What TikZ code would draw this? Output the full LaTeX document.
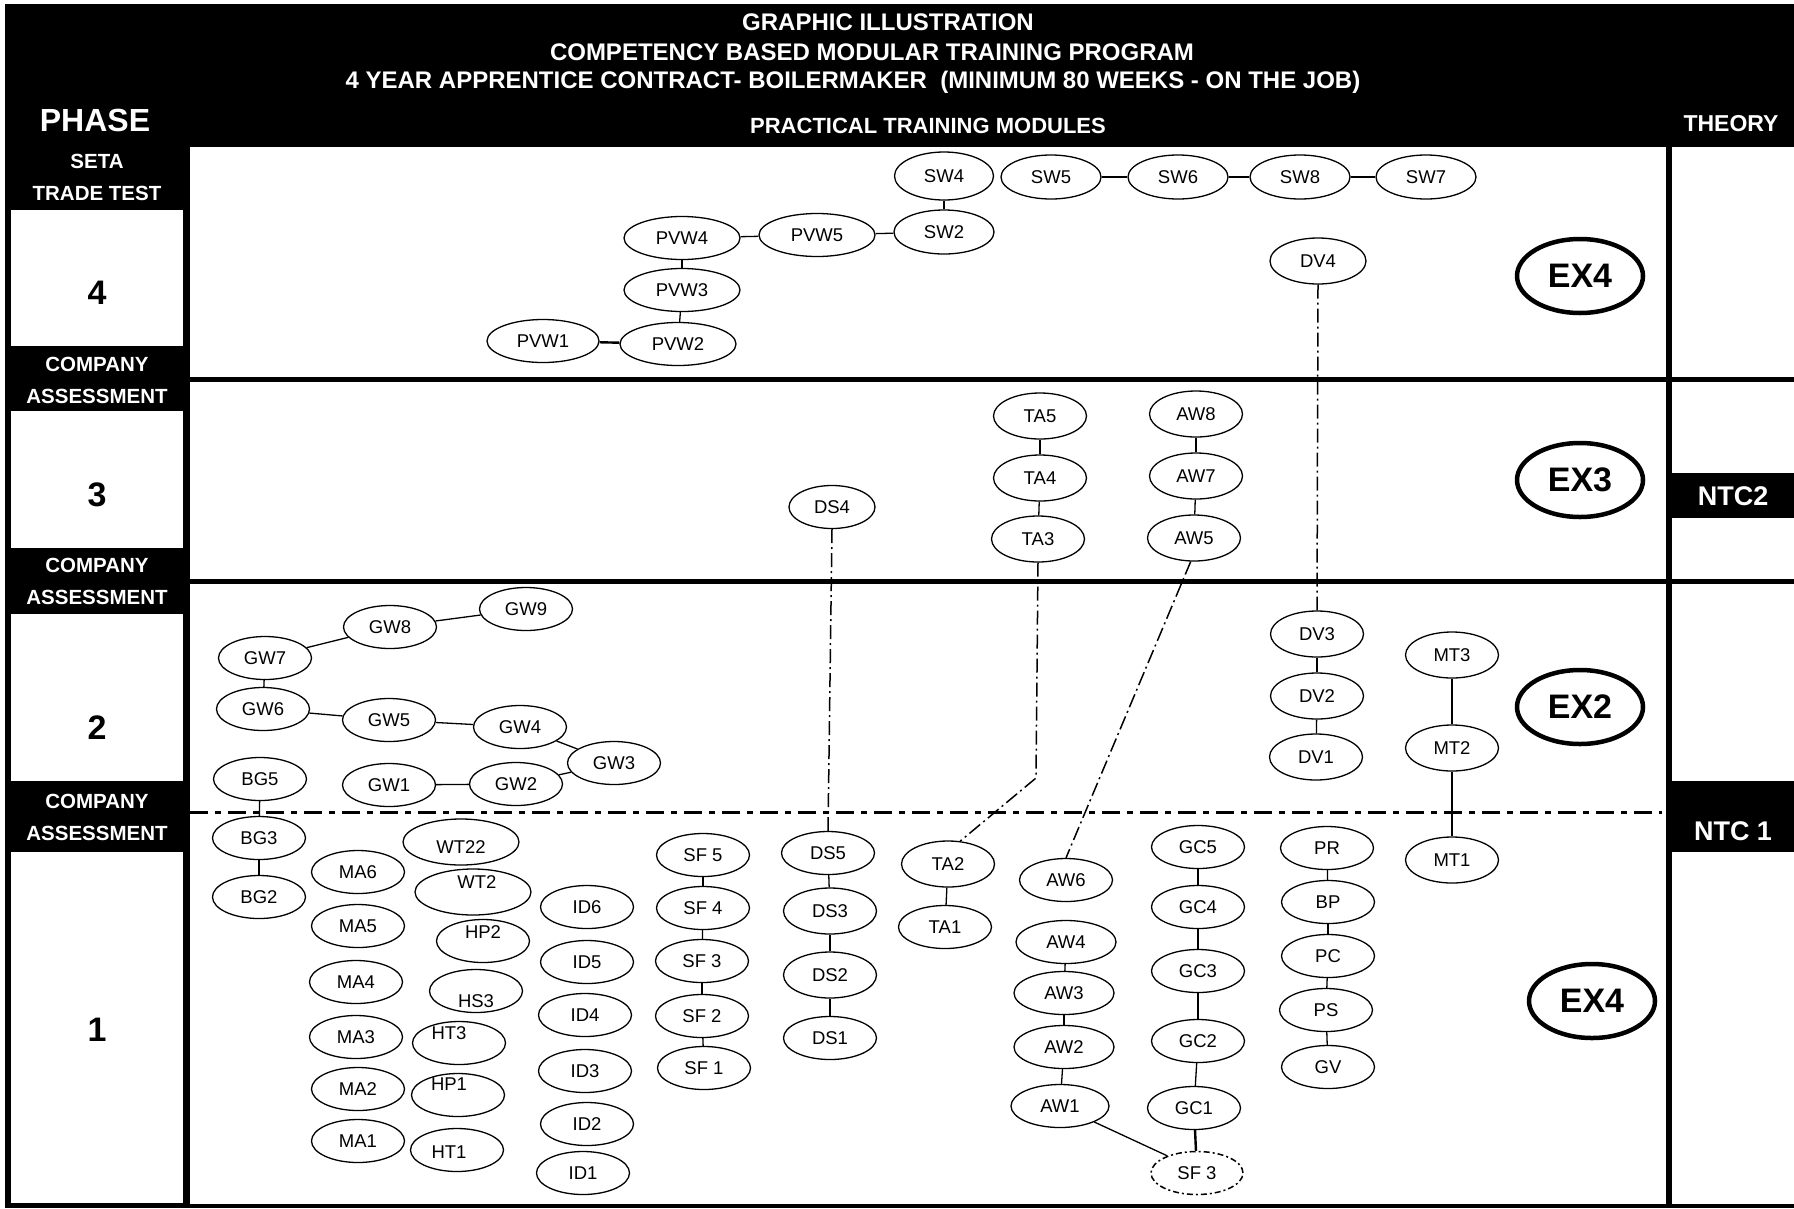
\documentclass[tikz,border=0pt]{standalone}
\usepackage{fontspec}
\setmainfont{Liberation Sans}
\usetikzlibrary{shapes.geometric}
\begin{document}
\begin{tikzpicture}[x=1pt,y=-1pt,
  mod/.style={ellipse, draw, line width=1.3pt, fill=white, minimum width=93pt, minimum height=43pt, inner sep=0pt, font=\fontsize{18.5}{20}\selectfont},
  wide/.style={minimum width=116pt},
  tall/.style={minimum height=46pt},
  modtxt/.style={inner sep=0pt, font=\fontsize{18.5}{20}\selectfont},
  link/.style={line width=1.3pt},
  boldlink/.style={line width=2.4pt},
  dd/.style={line width=1.5pt, dash pattern=on 14pt off 4pt on 2pt off 4pt},
  ex/.style={ellipse, draw, line width=4.5pt, fill=white, minimum width=126pt, minimum height=74pt, inner sep=0pt, font=\bfseries\fontsize{34}{36}\selectfont},
  title/.style={text=white, inner sep=0pt, anchor=base, font=\bfseries\fontsize{24}{26}\selectfont},
  side/.style={text=white, inner sep=0pt, align=center, font=\bfseries\fontsize{20.5}{32}\selectfont},
  num/.style={inner sep=0pt, font=\bfseries\fontsize{34}{36}\selectfont},
  ntc/.style={text=white, inner sep=0pt, font=\bfseries\fontsize{27}{29}\selectfont}
]
\useasboundingbox (0,0) rectangle (1794,1208);
% frame and panels
\fill[white] (0,0) rectangle (1794,1208);
\fill[black] (5,4) rectangle (1794,1208);
\fill[white] (190,147) rectangle (1666,1204);
\fill[white] (1672,147) rectangle (1794,1204);
\fill[white] (11,210) rectangle (183,346);
\fill[white] (11,411) rectangle (183,548);
\fill[white] (11,614) rectangle (183,781);
\fill[white] (11,852) rectangle (183,1203);
\fill[black] (190,377) rectangle (1794,382);
\fill[black] (190,579) rectangle (1794,584);
\fill[black] (1672,473) rectangle (1794,518);
\fill[black] (1672,781) rectangle (1794,852);
\draw[line width=3pt, dash pattern=on 18pt off 7pt on 6pt off 7pt] (190,812) -- (1662,812);

% header texts
\node[title] (t1) at (888,30.3) {GRAPHIC ILLUSTRATION};
\node[title] (t2) at (872,60.1) {COMPETENCY BASED MODULAR TRAINING PROGRAM};
\node[title] (t3) at (853,88.6) {4 YEAR APPRENTICE CONTRACT- BOILERMAKER\ \ (MINIMUM 80 WEEKS - ON THE JOB)};
\node[text=white, inner sep=0pt, font=\bfseries\fontsize{32}{34}\selectfont] (phase) at (95,120) {PHASE};
\node[text=white, inner sep=0pt, font=\bfseries\fontsize{22}{24}\selectfont] (ptm) at (928,126) {PRACTICAL TRAINING MODULES};
\node[text=white, inner sep=0pt, font=\bfseries\fontsize{23}{25}\selectfont] (theory) at (1731,124) {THEORY};

% left column
\node[side] (seta) at (97,177) {SETA\\TRADE TEST};
\node[side] (ca3) at (97,380) {COMPANY\\ASSESSMENT};
\node[side] (ca2) at (97,581) {COMPANY\\ASSESSMENT};
\node[side] (ca1) at (97,817) {COMPANY\\ASSESSMENT};
\node[num] (p4) at (97,293) {4};
\node[num] (p3) at (97,495) {3};
\node[num] (p2) at (97,728) {2};
\node[num] (p1) at (97,1030) {1};

% right column
\node[ntc] (ntc2) at (1733,496) {NTC2};
\node[ntc] (ntc1) at (1733,831) {NTC 1};

% EX ellipses
\node[ex] (ex4a) at (1580,276) {EX4};
\node[ex] (ex3) at (1580,480) {EX3};
\node[ex] (ex2) at (1580,707) {EX2};
\node[ex] (ex4b) at (1592,1001) {EX4};

% phase 4
\node[mod, minimum width=99pt, minimum height=48pt] (sw4) at (944,176) {SW4};
\node[mod, minimum width=100pt, minimum height=44pt] (sw5) at (1051,177) {SW5};
\node[mod, minimum width=100pt, minimum height=44pt] (sw6) at (1178,177) {SW6};
\node[mod, minimum width=100pt, minimum height=44pt] (sw8) at (1300,177) {SW8};
\node[mod, minimum width=100pt, minimum height=44pt] (sw7) at (1426,177) {SW7};
\node[mod, minimum width=100pt, minimum height=44pt] (sw2) at (944,232) {SW2};
\node[mod, wide] (pvw5) at (817,235) {PVW5};
\node[mod, wide] (pvw4) at (682,238) {PVW4};
\node[mod, wide] (pvw3) at (682,290) {PVW3};
\node[mod, wide] (pvw2) at (678,344) {PVW2};
\node[mod, minimum width=112pt] (pvw1) at (543,341) {PVW1};
\node[mod, minimum width=96pt, tall] (dv4) at (1318,261) {DV4};

% phase 3
\node[mod, tall] (ta5) at (1040,416) {TA5};
\node[mod, tall] (ta4) at (1040,478) {TA4};
\node[mod, tall] (ta3) at (1038,539) {TA3};
\node[mod, tall] (aw8) at (1196,414) {AW8};
\node[mod, tall] (aw7) at (1196,476) {AW7};
\node[mod, tall] (aw5) at (1194,538) {AW5};
\node[mod, minimum width=86pt] (ds4) at (832,507) {DS4};

% phase 2
\node[mod] (gw9) at (526,609) {GW9};
\node[mod] (gw8) at (390,627) {GW8};
\node[mod] (gw7) at (265,658) {GW7};
\node[mod] (gw6) at (263,709) {GW6};
\node[mod] (gw5) at (389,720) {GW5};
\node[mod] (gw4) at (520,727) {GW4};
\node[mod] (gw3) at (614,763) {GW3};
\node[mod] (gw2) at (516,784) {GW2};
\node[mod] (gw1) at (389,785) {GW1};
\node[mod] (bg5) at (260,779) {BG5};
\node[mod, tall] (dv3) at (1317,634) {DV3};
\node[mod, tall] (dv2) at (1317,696) {DV2};
\node[mod, tall] (dv1) at (1316,757) {DV1};
\node[mod, tall] (mt3) at (1452,655) {MT3};
\node[mod, tall] (mt2) at (1452,748) {MT2};
\node[mod, tall] (mt1) at (1452,860) {MT1};

% phase 1
\node[mod] (bg3) at (259,838) {BG3};
\node[mod] (bg2) at (259,897) {BG2};
\node[mod] (ma6) at (358,872) {MA6};
\node[mod] (ma5) at (358,926) {MA5};
\node[mod] (ma4) at (356,982) {MA4};
\node[mod] (ma3) at (356,1037) {MA3};
\node[mod] (ma2) at (358,1089) {MA2};
\node[mod] (ma1) at (358,1141) {MA1};
\node[mod, wide, tall] (wt22) at (461,842) {};
\node[modtxt, yshift=-5pt] (wt22t) at (wt22) {WT22};
\node[mod, wide, tall] (wt2) at (473,892) {};
\node[modtxt, xshift=4pt, yshift=10pt] (wt2t) at (wt2) {WT2};
\node[mod] (hp2) at (483,941) {};
\node[modtxt, yshift=9pt] (hp2t) at (hp2) {HP2};
\node[mod] (hs3) at (476,991) {};
\node[modtxt, yshift=-10pt] (hs3t) at (hs3) {HS3};
\node[mod] (ht3) at (459,1043) {};
\node[modtxt, xshift=-10pt, yshift=10pt] (ht3t) at (ht3) {HT3};
\node[mod] (hp1) at (458,1095) {};
\node[modtxt, xshift=-9pt, yshift=11pt] (hp1t) at (hp1) {HP1};
\node[mod] (ht1) at (457,1150) {};
\node[modtxt, xshift=-8pt, yshift=-2pt] (ht1t) at (ht1) {HT1};
\node[mod] (id6) at (587,907) {ID6};
\node[mod] (id5) at (587,962) {ID5};
\node[mod] (id4) at (585,1015) {ID4};
\node[mod] (id3) at (585,1071) {ID3};
\node[mod] (id2) at (587,1124) {ID2};
\node[mod] (id1) at (583,1173) {ID1};
\node[mod] (sf5) at (703,855) {SF 5};
\node[mod] (sf4) at (703,908) {SF 4};
\node[mod] (sf3) at (702,961) {SF 3};
\node[mod] (sf2) at (702,1016) {SF 2};
\node[mod] (sf1) at (704,1068) {SF 1};
\node[mod] (ds5) at (828,853) {DS5};
\node[mod, tall] (ds3) at (830,911) {DS3};
\node[mod, tall] (ds2) at (830,975) {DS2};
\node[mod] (ds1) at (830,1038) {DS1};
\node[mod, tall] (ta2) at (948,864) {TA2};
\node[mod] (ta1) at (945,927) {TA1};
\node[mod] (aw6) at (1066,880) {AW6};
\node[mod, minimum width=100pt] (aw4) at (1066,942) {AW4};
\node[mod, minimum width=100pt] (aw3) at (1064,993) {AW3};
\node[mod, minimum width=100pt] (aw2) at (1064,1047) {AW2};
\node[mod, minimum width=98pt] (aw1) at (1060,1106) {AW1};
\node[mod] (gc5) at (1198,847) {GC5};
\node[mod] (gc4) at (1198,907) {GC4};
\node[mod] (gc3) at (1198,971) {GC3};
\node[mod] (gc2) at (1198,1041) {GC2};
\node[mod] (gc1) at (1194,1108) {GC1};
\node[mod, draw=none] (sf3b) at (1197,1173) {SF 3};
\draw[line width=1.5pt, dash pattern=on 6pt off 3pt on 2pt off 3pt] (sf3b.center) ellipse [x radius=46pt, y radius=21.5pt];
\node[mod] (pr) at (1327,848) {PR};
\node[mod] (bp) at (1328,902) {BP};
\node[mod] (pc) at (1328,956) {PC};
\node[mod] (ps) at (1326,1010) {PS};
\node[mod] (gv) at (1328,1067) {GV};

% solid connectors
\draw[boldlink] (sw5) -- (sw6);
\draw[boldlink] (sw6) -- (sw8);
\draw[boldlink] (sw8) -- (sw7);
\draw[link] (sw4) -- (sw2);
\draw[link] (pvw4) -- (pvw5);
\draw[link] (pvw5) -- (sw2);
\draw[link] (pvw4) -- (pvw3);
\draw[link] (pvw3) -- (pvw2);
\draw[boldlink] (pvw1) -- (pvw2);
\draw[link] (ta5) -- (ta4);
\draw[link] (ta4) -- (ta3);
\draw[link] (aw8) -- (aw7);
\draw[link] (aw7) -- (aw5);
\draw[link] (gw9) -- (gw8);
\draw[link] (gw8) -- (gw7);
\draw[link] (gw7) -- (gw6);
\draw[link] (gw6) -- (gw5);
\draw[link] (gw5) -- (gw4);
\draw[link] (gw4) -- (gw3);
\draw[link] (gw3) -- (gw2);
\draw[link] (gw2) -- (gw1);
\draw[link] (bg5) -- (bg3);
\draw[link] (bg3) -- (bg2);
\draw[link] (dv3) -- (dv2);
\draw[link] (dv2) -- (dv1);
\draw[link] (mt3) -- (mt2);
\draw[link] (mt2) -- (mt1);
\draw[link] (sf5) -- (sf4);
\draw[link] (sf4) -- (sf3);
\draw[link] (sf3) -- (sf2);
\draw[link] (sf2) -- (sf1);
\draw[link] (ds5) -- (ds3);
\draw[link] (ds3) -- (ds2);
\draw[link] (ds2) -- (ds1);
\draw[link] (ta2) -- (ta1);
\draw[link] (aw4) -- (aw3);
\draw[link] (aw3) -- (aw2);
\draw[link] (aw2) -- (aw1);
\draw[link] (aw1.-25) -- (sf3b.150);
\draw[link] (gc5) -- (gc4);
\draw[link] (gc4) -- (gc3);
\draw[link] (gc3) -- (gc2);
\draw[link] (gc2) -- (gc1);
\draw[boldlink] (gc1) -- (sf3b);
\draw[link] (pr) -- (bp);
\draw[link] (bp) -- (pc);
\draw[link] (pc) -- (ps);
\draw[link] (ps) -- (gv);

% dash-dot connectors
\coordinate (tabend) at (1036,778);
\draw[dd] (dv4.south) -- (dv3.north);
\draw[dd] (ds4.south) -- (ds5.north);
\draw[dd] (ta3.south) -- (tabend) -- (ta2.62);
\draw[dd] (aw5.262) -- (aw6.north);
\end{tikzpicture}
\end{document}
